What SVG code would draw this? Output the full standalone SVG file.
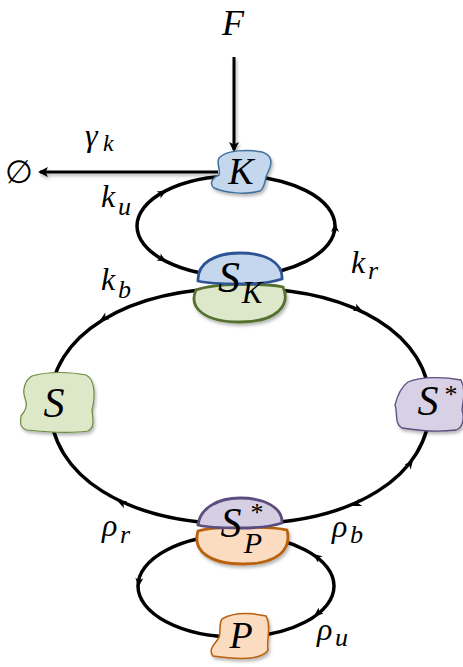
<svg xmlns="http://www.w3.org/2000/svg" width="463" height="667" viewBox="0 0 463 667">
<defs>
<filter id="sh" x="-20%" y="-20%" width="150%" height="150%">
<feDropShadow dx="1.5" dy="2.5" stdDeviation="1.5" flood-color="#000" flood-opacity="0.28"/>
</filter>
<filter id="shl" filterUnits="userSpaceOnUse" x="0" y="0" width="463" height="667">
<feDropShadow dx="1.5" dy="2.5" stdDeviation="1.5" flood-color="#000" flood-opacity="0.28"/>
</filter>
<path id="ah" d="M5,0 L-4,-4 L-1.5,0 L-4,4 Z" fill="#000"/>
<marker id="big" markerWidth="12" markerHeight="12" viewBox="-6 -6 12 12" refX="3" refY="0" orient="auto" markerUnits="userSpaceOnUse">
<path d="M5,0 L-5,-5 L-2.5,0 L-5,5 Z" fill="#000"/>
</marker>
</defs>
<style>
.ln{fill:none;stroke:#000;stroke-width:3.5}
.ar{fill:none;stroke:#000;stroke-width:3}
.t{font-family:"Liberation Serif","DejaVu Serif",serif;font-style:italic;fill:#000}
.up{font-style:normal}
.blue{fill:#c5d7ec;stroke:#41719c;stroke-width:1.5}
.blueT{fill:#c5d7ec;stroke:#2f5496;stroke-width:2.8}
.green{fill:#dce8c8;stroke:#6b8a3f;stroke-width:1.2}
.greenB{fill:#dde8cb;stroke:#56702e;stroke-width:2.8}
.purple{fill:#d8d1e5;stroke:#5b4d7d;stroke-width:1.3}
.purpleT{fill:#d6cfe3;stroke:#5b4d7d;stroke-width:2.8}
.orange{fill:#fcdcc0;stroke:#b86210;stroke-width:1.5}
.orangeB{fill:#fcdcc0;stroke:#b86210;stroke-width:2.8}
</style>

<g id="connectors">
<ellipse class="ln" cx="236" cy="226" rx="99" ry="50"/>
<path class="ln" d="M240,288 C354,288 430,335 430,405 C430,476 354,524 240,524 C126,524 50,476 50,405 C50,335 126,288 240,288 Z"/>
<ellipse class="ln" cx="236" cy="586" rx="98" ry="51"/>
<g filter="url(#shl)">
<line class="ar" x1="234" y1="57" x2="234" y2="150" marker-end="url(#big)"/>
<line class="ar" x1="218" y1="172" x2="40" y2="172" marker-end="url(#big)"/>
</g>
<use href="#ah" transform="translate(162,193) rotate(-29.5)"/>
<use href="#ah" transform="translate(162,259) rotate(29.5)"/>
<use href="#ah" transform="translate(335,228) rotate(-90)"/>
<use href="#ah" transform="translate(104,318) rotate(148)"/>
<use href="#ah" transform="translate(358,309) rotate(23.5)"/>
<use href="#ah" transform="translate(410,464) rotate(-52.5)"/>
<use href="#ah" transform="translate(357,504) rotate(156)"/>
<use href="#ah" transform="translate(122,503) rotate(204)"/>
<use href="#ah" transform="translate(139,582) rotate(95)"/>
<use href="#ah" transform="translate(318,613) rotate(141.5)"/>
<use href="#ah" transform="translate(317,557) rotate(217)"/>
</g>

<g id="node-F"><text class="t" x="233" y="35" font-size="36" text-anchor="middle">F</text></g>
<g id="node-empty"><text class="t up" x="19" y="183" font-size="32" text-anchor="middle">∅</text></g>

<g id="node-K">
<path class="blue" filter="url(#sh)" d="M219,158 C226,150 248,149 262,152 C272,155 273,163 268,172 C264,179 266,187 260,191 C246,195 226,193 214,188 C209,184 212,178 219,175 C221,170 216,163 219,158 Z"/>
<text class="t" x="241" y="184" font-size="38" text-anchor="middle">K</text>
</g>

<g id="node-SK">
<path class="greenB" filter="url(#sh)" d="M196,290 C188,308 205,322 240,322 C277,322 291,305 283,287 C265,283 215,283 196,290 Z"/>
<path class="blueT" d="M198,281 C197,263 215,253 240,253 C265,253 283,262 282,279 C270,283 255,284 240,284 C225,284 210,284 198,281 Z"/>
<text class="t" x="229" y="292" font-size="44" text-anchor="middle">S</text>
<text class="t" x="252" y="303" font-size="31" text-anchor="middle">K</text>
</g>

<g id="node-S">
<path class="green" filter="url(#sh)" d="M32,376 C48,371 72,372 86,375 C96,380 95,398 92,410 C93,420 95,427 88,431 C68,434 45,432 27,430 C18,427 21,420 21,416 C26,410 28,405 25,398 C22,390 25,380 32,376 Z"/>
<text class="t" x="54" y="417" font-size="42" text-anchor="middle">S</text>
</g>

<g id="node-Sstar">
<path class="purple" filter="url(#sh)" d="M408,382 C422,376 445,377 461,380 C466,390 463,400 462,410 C465,420 462,428 456,430 C440,432 420,431 402,428 C394,424 398,412 395,405 C397,397 401,387 408,382 Z"/>
<text class="t" x="428" y="415" font-size="42" text-anchor="middle">S</text>
<text class="t up" x="451" y="403" font-size="26" text-anchor="middle">*</text>
</g>

<g id="node-SPstar">
<path class="orangeB" filter="url(#sh)" d="M198,531 C192,551 210,564 243,564 C277,564 292,550 287,530 C270,526 215,526 198,531 Z"/>
<path class="purpleT" d="M198,525 C200,508 218,498 240,498 C265,498 283,508 282,523 C270,527 255,528 240,528 C225,528 208,528 198,525 Z"/>
<text class="t" x="231" y="537" font-size="42" text-anchor="middle">S</text>
<text class="t up" x="257" y="521" font-size="26" text-anchor="middle">*</text>
<text class="t" x="253" y="553" font-size="30" text-anchor="middle">P</text>
</g>

<g id="node-P">
<path class="orange" filter="url(#sh)" d="M222,619 C234,612 252,613 266,616 C272,626 266,640 268,650 C262,660 240,660 213,656 C208,650 214,645 218,639 C222,634 218,625 222,619 Z"/>
<text class="t" x="241" y="648" font-size="38" text-anchor="middle">P</text>
</g>

<g id="labels">
<text class="t" x="85" y="146" font-size="32">γ<tspan x="103" y="151" font-size="24">k</tspan></text>
<text class="t" x="101" y="207" font-size="32">k<tspan x="118" y="215" font-size="26">u</tspan></text>
<text class="t" x="101" y="290" font-size="32">k<tspan x="118" y="298" font-size="26">b</tspan></text>
<text class="t" x="351" y="273" font-size="32">k<tspan x="368" y="279" font-size="26">r</tspan></text>
<text class="t" x="102" y="536" font-size="32">ρ<tspan x="120" y="543" font-size="26">r</tspan></text>
<text class="t" x="332" y="537" font-size="32">ρ<tspan x="350" y="543" font-size="26">b</tspan></text>
<text class="t" x="317" y="640" font-size="32">ρ<tspan x="335" y="646" font-size="26">u</tspan></text>
</g>
</svg>
